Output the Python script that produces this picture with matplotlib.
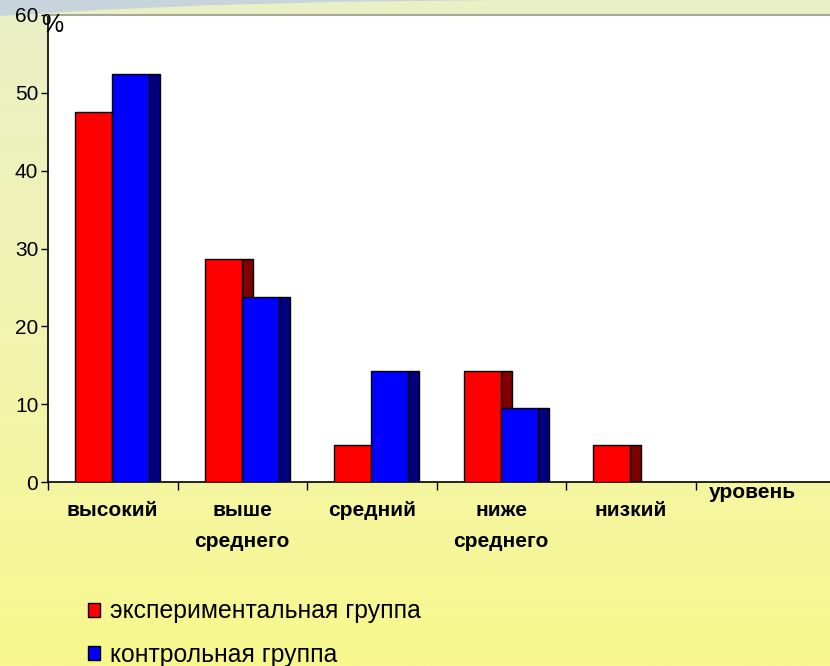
import numpy as np
import matplotlib.pyplot as plt
from matplotlib.colors import LinearSegmentedColormap
from matplotlib.patches import Polygon

plt.rcParams["font.family"] = ["Liberation Sans", "DejaVu Sans"]

categories = ["высокий", "выше\nсреднего", "средний", "ниже\nсреднего", "низкий"]
exp_group = [47.6, 28.6, 4.8, 14.3, 4.8]
ctrl_group = [52.4, 23.8, 14.3, 9.5, 0.0]
series_names = ["экспериментальная группа", "контрольная группа"]
yticks = [0, 10, 20, 30, 40, 50, 60]

fig = plt.figure(figsize=(8.3, 6.66), dpi=100)

# background gradient + swoosh
bg = fig.add_axes([0, 0, 1, 1], zorder=-10)
cmap = LinearSegmentedColormap.from_list("bg", ["#e9f0c6", "#f2f4b0", "#f8f88e"])
bg.imshow(np.linspace(0, 1, 256).reshape(-1, 1), aspect="auto", cmap=cmap,
          extent=[0, 1, 0, 1], origin="upper")
bg.add_patch(Polygon([[0, 1], [0, 0.976], [0.12, 0.985], [0.25, 0.992],
                      [0.4, 0.997], [0.6, 1]], closed=True,
                     facecolor="#c8d4dc", edgecolor="none"))
bg.set_xlim(0, 1)
bg.set_ylim(0, 1)
bg.axis("off")

ax = fig.add_axes([48 / 830, 184 / 666, 782 / 830, 467 / 666])
ax.set_facecolor("white")

idx = np.arange(len(categories))
w = 0.285
d = 0.085
ax.bar(idx + 0.21 + w, exp_group, d, align="edge", color="#800000",
       edgecolor="black", linewidth=1, zorder=2)
bars_e = ax.bar(idx + 0.21, exp_group, w, align="edge", color="#ff0000",
                edgecolor="black", linewidth=1, zorder=3)
ax.bar(idx + 0.21 + 2 * w, ctrl_group, d, align="edge", color="#000080",
       edgecolor="black", linewidth=1, zorder=4)
bars_c = ax.bar(idx + 0.21 + w, ctrl_group, w, align="edge", color="#0000ff",
                edgecolor="black", linewidth=1, zorder=5)

ax.set_xlim(0, 782 / 129.5)
ax.set_ylim(0, 60)
ax.set_yticks(yticks)
ax.set_yticklabels([str(v) for v in yticks], fontsize=15)
ax.tick_params(axis="y", length=5, width=1, pad=2)

ax.set_xticks(np.arange(0, 6))
ax.set_xticklabels([])
ax.set_xticks(idx + 0.5, minor=True)
ax.set_xticklabels(categories, minor=True, fontsize=15, fontweight="bold",
                   linespacing=1.8, va="top")
ax.tick_params(axis="x", which="major", length=6, width=1)
ax.tick_params(axis="x", which="minor", length=0, pad=14)

ax.spines["right"].set_visible(False)
ax.spines["top"].set_color("#a8a898")
ax.spines["top"].set_linewidth(1.5)
ax.spines["left"].set_linewidth(1.2)
ax.spines["bottom"].set_linewidth(1.2)

ax.text(-0.05, 60.3, "%", fontsize=18, ha="left", va="top", zorder=6,
        clip_on=False)
ax.text(5.44, -0.1, "уровень", fontsize=15, fontweight="bold",
        ha="center", va="top", transform=ax.transData, clip_on=False)

fig.legend([bars_e, bars_c], series_names, loc="upper left",
           bbox_to_anchor=(88 / 830, 0.1), frameon=False, fontsize=17.8,
           borderpad=0, borderaxespad=0,
           handlelength=0.5, handleheight=0.5, handletextpad=0.4,
           labelspacing=0.78)

fig.savefig("out.png", dpi=100)
